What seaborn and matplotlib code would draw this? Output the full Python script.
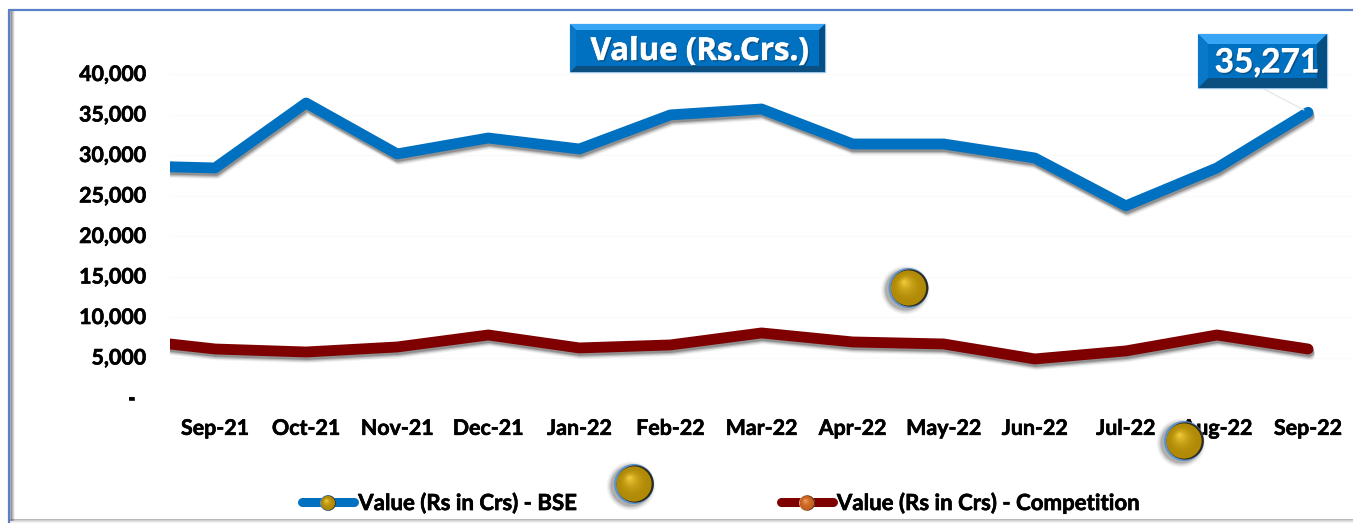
import numpy as np
import pandas as pd
import matplotlib
matplotlib.use("Agg")
import matplotlib.pyplot as plt
import matplotlib.patheffects as pe
from matplotlib.colors import to_rgb
from matplotlib.lines import Line2D
from matplotlib.patches import Polygon, Rectangle, Circle
from matplotlib.transforms import ScaledTranslation
import seaborn as sns

months = ["Aug-21", "Sep-21", "Oct-21", "Nov-21", "Dec-21", "Jan-22", "Feb-22", "Mar-22",
          "Apr-22", "May-22", "Jun-22", "Jul-22", "Aug-22", "Sep-22"]
bse = [28700, 28400, 36420, 30130, 32100, 30740, 34950, 35680,
       31360, 31360, 29630, 23720, 28400, 35271]
competition = [7300, 6050, 5680, 6300, 7780, 6180, 6550, 8030,
               6920, 6670, 4820, 5810, 7780, 6050]
y_ticks = [0, 5000, 10000, 15000, 20000, 25000, 30000, 35000, 40000]
y_labels = ["-  ", "5,000", "10,000", "15,000", "20,000", "25,000", "30,000", "35,000", "40,000"]
series_names = ["Value (Rs in Crs) - BSE", "Value (Rs in Crs) - Competition"]
title_text = "Value (Rs.Crs.)"
last_label = "35,271"

BLUE, RED = "#0070C0", "#7F0000"
W, H = 1353, 523

sns.set_theme(style="white")
plt.rcParams["font.family"] = ["Lato", "DejaVu Sans"]
plt.rcParams["font.weight"] = "bold"

fig = plt.figure(figsize=(W / 100, H / 100), dpi=100, facecolor="white")

bg = fig.add_axes([0, 0, 1, 1], zorder=0)
bg.set_xlim(0, W); bg.set_ylim(H, 0); bg.axis("off")
fg = fig.add_axes([0, 0, 1, 1], zorder=5)
fg.set_xlim(0, W); fg.set_ylim(H, 0); fg.axis("off"); fg.patch.set_alpha(0)

for i, a in enumerate([0.45, 0.3, 0.18, 0.08]):
    bg.add_patch(Rectangle((10 + i, 11), 2, 510, fc="#555555", ec="none", alpha=a))
    bg.add_patch(Rectangle((10, 518.5 + i), W, 1.6, fc="#666666", ec="none", alpha=a))
bg.plot([9, 9], [10, H], color="#5B80C8", lw=1.6)
bg.plot([9, W], [10, 10], color="#5B80C8", lw=1.6)

ax = fig.add_axes([169.5 / W, 1 - 398 / H, (W - 169.5) / W, 324 / H], zorder=2)
ax.patch.set_alpha(0)

df = pd.DataFrame({"month": months * 2,
                   "x": list(range(len(months))) * 2,
                   "value": bse + competition,
                   "series": [series_names[0]] * len(months) + [series_names[1]] * len(months)})
sns.lineplot(data=df, x="x", y="value", hue="series", palette=[BLUE, RED], lw=7.8,
             ax=ax, legend=False, errorbar=None, sort=False,
             solid_capstyle="round", solid_joinstyle="round")
shadow = [pe.SimpleLineShadow(offset=(o * 0.3, -o), shadow_color="#111111", alpha=a)
          for o, a in [(4.2, 0.06), (3.4, 0.1), (2.6, 0.16), (1.8, 0.24)]] + [pe.Normal()]
for ln in ax.lines:
    ln.set_path_effects(shadow)

heavy = [pe.withStroke(linewidth=0.45, foreground="black")]
ax.set_xlim(0.5, 0.5 + (W - 169.5) / 91.08)
ax.set_ylim(0, 40000)
ax.set_xticks(range(1, len(months)))
ax.set_xticklabels(months[1:])
ax.set_yticks(y_ticks)
ax.set_yticklabels(y_labels)
ax.set_xlabel(""); ax.set_ylabel("")
ax.tick_params(axis="x", length=0, pad=15, labelsize=15.4, labelcolor="black")
ax.tick_params(axis="y", length=0, pad=17, labelsize=15.4, labelcolor="black")
for t in ax.get_xticklabels() + ax.get_yticklabels():
    t.set_path_effects(heavy)
up = ScaledTranslation(0, 1 / 100, fig.dpi_scale_trans)
for t in ax.get_yticklabels():
    t.set_transform(t.get_transform() + up)
ax.grid(axis="y", color="#FAFAFA", lw=0.8)
ax.grid(axis="x", visible=False)
for s in ax.spines.values():
    s.set_visible(False)

handles = [Line2D([], [], color=BLUE, lw=6.5, solid_capstyle="round"),
           Line2D([], [], color=RED, lw=6.5, solid_capstyle="round")]
leg = fig.legend(handles, series_names, loc="center left", bbox_to_anchor=(302 / W, 1 - 503 / H),
                 ncol=2, frameon=False, fontsize=16, columnspacing=9.15, handlelength=2.35,
                 handletextpad=0.18, borderpad=0, borderaxespad=0, labelcolor="black")
leg.set_zorder(3)
for t in leg.get_texts():
    t.set_path_effects(heavy)


def bevel_box(x0, y0, x1, y1, d, text, fs, tx, ty, fam):
    top, bottom, left, right = "#38A4F4", "#0A4F80", "#0A78C8", "#044E84"
    fg.add_patch(Rectangle((x0, y0), x1 - x0, y1 - y0, fc=BLUE, ec="#9CC4E8", lw=1, zorder=2))
    fg.add_patch(Polygon([(x0, y0), (x1, y0), (x1 - d, y0 + d), (x0 + d, y0 + d)], fc=top, ec="none", zorder=3))
    fg.add_patch(Polygon([(x0, y1), (x1, y1), (x1 - d, y1 - d), (x0 + d, y1 - d)], fc=bottom, ec="none", zorder=3))
    fg.add_patch(Polygon([(x0, y0), (x0 + d, y0 + d), (x0 + d, y1 - d), (x0, y1)], fc=left, ec="none", zorder=3))
    fg.add_patch(Polygon([(x1, y0), (x1 - d, y0 + d), (x1 - d, y1 - d), (x1, y1)], fc=right, ec="none", zorder=3))
    fg.text(tx, ty, text, color="white", fontsize=fs, fontweight="bold", family=fam,
            ha="center", va="center", zorder=4,
            path_effects=[pe.withStroke(linewidth=0.5, foreground="white"),
                          pe.withSimplePatchShadow(offset=(1, -1), shadow_rgbFace="#023A66", alpha=0.6)])


bevel_box(570, 24, 825, 72, 6, title_text, 22.5, 700, 52, "Open Sans")
bevel_box(1198, 34, 1327, 88, 10, last_label, 24, 1267, 63, "Lato")
fg.plot([1262, 1304], [88, 110], color="#E4E4E4", lw=0.8, zorder=1)


def ball(cx, cy, r, dark="#B08A06", light="#EFC838", rim="#5F93C8", glow=True):
    if glow:
        for k, a in [(1.22, 0.05), (1.15, 0.08), (1.08, 0.12), (1.02, 0.16)]:
            fg.add_patch(Circle((cx - 3, cy + 2), r * k, fc="#222222", ec="none", alpha=a, zorder=6))
    fg.add_patch(Circle((cx, cy), r, fc=rim, ec="none", zorder=7))
    fg.add_patch(Circle((cx + 0.06 * r, cy), r * 0.93, fc="#2E2A1C", ec="none", zorder=7))
    steps = 16
    c0, c1 = np.array(to_rgb(dark)), np.array(to_rgb(light))
    for i in range(steps):
        f = i / (steps - 1)
        col = c0 + (c1 - c0) * f ** 2.2
        fg.add_patch(Circle((cx - r * 0.22 * f, cy - r * 0.3 * f), r * 0.88 * (1 - f * 0.92),
                            fc=col, ec="none", zorder=8))


ball(908.5, 288, 20)
ball(1184, 441, 20)
ball(634, 484, 20)
ball(328, 503, 8, glow=False)
ball(807, 503, 8, dark="#C8601E", light="#F0A060", rim="#E0A070", glow=False)

fig.savefig("out.png", dpi=100)
